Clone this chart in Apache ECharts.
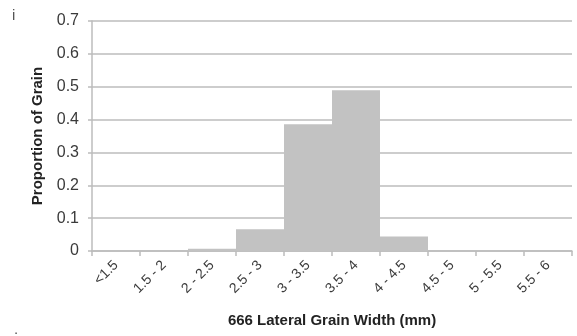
<!DOCTYPE html>
<html>
<head>
<meta charset="utf-8">
<script src="https://cdn.jsdelivr.net/npm/echarts@6/dist/echarts.min.js"></script>
<style>
  html, body { margin: 0; padding: 0; background: #fff; }
  #main { width: 577px; height: 336px; }
</style>
</head>
<body>
<div id="main"></div>
<script>
// histogram bins and proportions
var categories = ['<1.5', '1.5 - 2', '2 - 2.5', '2.5 - 3', '3 - 3.5', '3.5 - 4', '4 - 4.5', '4.5 - 5', '5 - 5.5', '5.5 - 6'];
var proportions = [0, 0, 0.007, 0.066, 0.386, 0.489, 0.044, 0, 0, 0];
var yTicks = [0, 0.1, 0.2, 0.3, 0.4, 0.5, 0.6, 0.7];

var myChart = echarts.init(document.getElementById('main'));
var font = 'Liberation Sans, Arial, sans-serif';
var textColor = '#3a3a3a';
var lineColor = '#bcbcbc';

var option = {
    animation: false,
    textStyle: { fontFamily: font },
    grid: { left: 92, top: 21, right: 5, bottom: 85, containLabel: false },
    graphic: [
        { type: 'text', left: 12, top: 8, style: { text: 'i', font: '15px ' + font, fill: '#555' } },
        { type: 'text', left: 14, top: 322, style: { text: '.', font: '15px ' + font, fill: '#555' } }
    ],
    xAxis: {
        type: 'category',
        data: categories,
        name: '666 Lateral Grain Width (mm)',
        nameLocation: 'middle',
        nameGap: 62,
        nameTextStyle: { fontSize: 15, fontWeight: 'bold', color: '#222' },
        axisLine: { lineStyle: { color: lineColor, width: 1.5 } },
        axisTick: { show: true, length: 5, lineStyle: { color: lineColor, width: 1.5 } },
        axisLabel: { rotate: 45, fontSize: 14, color: textColor, margin: 12, interval: 0 }
    },
    yAxis: {
        type: 'value',
        min: yTicks[0],
        max: yTicks[yTicks.length - 1],
        interval: 0.1,
        name: 'Proportion of Grain',
        nameLocation: 'middle',
        nameGap: 40,
        nameTextStyle: { fontSize: 15, fontWeight: 'bold', color: '#222' },
        axisLine: { show: true, lineStyle: { color: lineColor, width: 1.5 } },
        axisTick: { show: true, length: 4, lineStyle: { color: lineColor, width: 1.5 } },
        axisLabel: { fontSize: 16, color: textColor, margin: 13,
            formatter: function (v) { return Math.round(v * 10) / 10 + ''; } },
        splitLine: { lineStyle: { color: lineColor, width: 1.5 } }
    },
    series: [{
        type: 'bar',
        data: proportions,
        barCategoryGap: '0%',
        itemStyle: { color: '#c2c2c2' }
    }]
};

myChart.setOption(option);
</script>
</body>
</html>
